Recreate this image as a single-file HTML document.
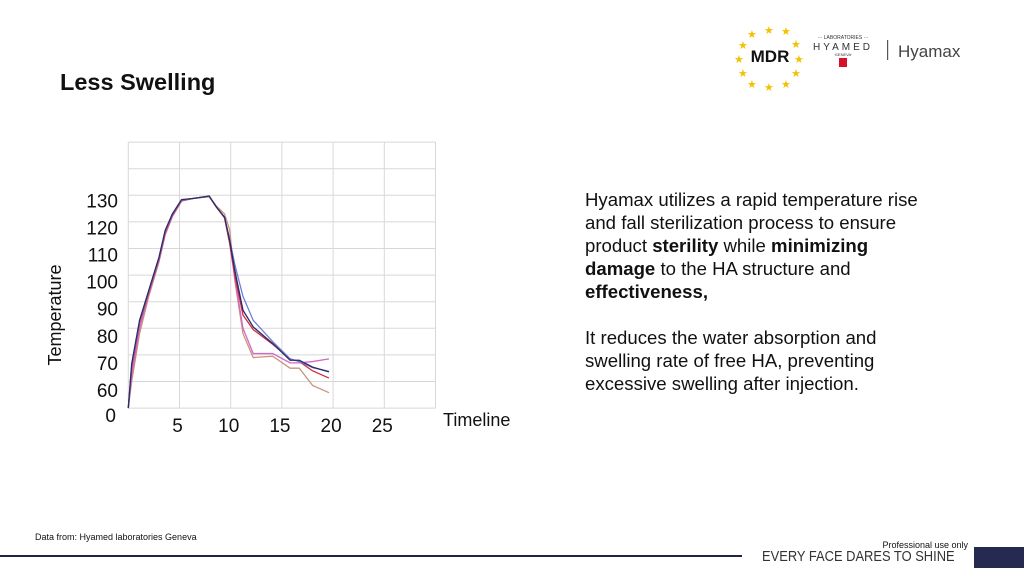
<!DOCTYPE html>
<html><head><meta charset="utf-8"><style>
body{margin:0;width:1024px;height:576px;background:#fff;position:relative;overflow:hidden;font-family:"Liberation Sans",sans-serif}
.a{position:absolute;white-space:nowrap}
</style></head><body>
<div class="a" style="left:60px;top:69px;font-size:23.5px;font-weight:bold;color:#111">Less Swelling</div>
<svg class="a" style="left:720px;top:15px" width="280" height="80">
<g fill="#f2c200" font-size="11">
<text x="44" y="19">★</text><text x="61" y="20">★</text><text x="27" y="23">★</text><text x="71" y="33">★</text><text x="18" y="34">★</text><text x="74" y="48">★</text><text x="14" y="48">★</text><text x="71" y="62">★</text><text x="18" y="62">★</text><text x="61" y="73">★</text><text x="27" y="73">★</text><text x="44" y="76">★</text></g>
<text x="50" y="47" text-anchor="middle" font-size="17" font-weight="bold" fill="#111">MDR</text>
<text x="123" y="24" text-anchor="middle" font-size="5" fill="#333">··· LABORATORIES ···</text>
<text x="123" y="35" text-anchor="middle" font-size="10" letter-spacing="3" fill="#333">HYAMED</text>
<text x="123" y="41" text-anchor="middle" font-size="4" fill="#333">·GENEVA·</text>
<rect x="119" y="43" width="8" height="9" fill="#d8102a"/>
<rect x="167" y="25" width="1.2" height="20" fill="#555"/>
<text x="178" y="42" font-size="17" fill="#444">Hyamax</text>
</svg>
<svg class="a" id="chart" style="left:0;top:0" width="520" height="450"></svg>
<div class="a" style="left:585px;top:188px;font-size:18.6px;line-height:23px;color:#111;white-space:normal;width:350px">Hyamax utilizes a rapid temperature rise and fall sterilization process to ensure product <b>sterility</b> while <b>minimizing damage</b> to the HA structure and <b>effectiveness,</b><br><br>It reduces the water absorption and swelling rate of free HA, preventing excessive swelling after injection.</div>
<div class="a" style="left:35px;top:532px;font-size:9px;color:#111">Data from: Hyamed laboratories Geneva</div>
<div class="a" style="left:0;top:555px;width:742px;height:2px;background:#1f2548"></div>
<div class="a" style="left:974px;top:547px;width:50px;height:21px;background:#262a50"></div>
<div class="a" style="right:56px;top:540px;font-size:9px;color:#111">Professional use only</div>
<div class="a" style="left:762px;top:548px;font-size:15px;color:#333;transform:scaleX(0.86);transform-origin:left top">EVERY FACE DARES TO SHINE</div>
<script>
const xTicks=[5,10,15,20,25];
const yTickValues=[130,120,110,100,90,80,70,60];
const yTickLabels=["130","120","110","100","90","80","70","60"];
const xs=[0,0.33,1.1,2.0,3.0,3.6,4.3,5.2,6.3,7.9,8.6,9.4,9.9,10.4,11.2,12.2,14.1,15.8,16.7,18.0,19.6];
const seriesNavy=[50,66.7,83,94.3,106.8,116.8,123,128.4,128.8,129.7,125.6,121.8,113,101.8,86.8,80.5,74.3,68,68,65.4,63.6];
const seriesBlue=[50,66,82.5,94,106.5,116.5,122.8,128.2,128.8,129.7,125.6,121.8,113.5,104,92,83,75,68.5,67.5,65.2,63.8];
const seriesRed=[50,65,82,93.5,106,116,122.5,128,128.8,129.6,125.6,121.5,112,100,85,79.5,74,68.5,67.5,64,61.3];
const seriesPink=[50,62,80,93,105.5,115.5,122,128,128.8,129.6,125.6,121.5,112,99,80,70.5,70.5,67,67,67.5,68.5];
const seriesTan=[50,60,78,92,105,115,122,127.8,128.8,129.5,126,123,117,98,78,69,69.5,65,65,58.5,55.8];
const svg=document.getElementById('chart');const NS='http://www.w3.org/2000/svg';
const X=v=>128.3+v*10.24, Y=v=>195.3+(130-v)*2.66;
function mk(t,a,p){const e=document.createElementNS(NS,t);for(const k in a)e.setAttribute(k,a[k]);(p||svg).appendChild(e);return e;}
const g=mk('g',{});
for(let v=0;v<=30;v+=5){const l=mk('line',{x1:X(v),x2:X(v),y1:Y(150),y2:Y(50),stroke:'#d8d8d8','stroke-width':1},g);}
for(let v=150;v>=50;v-=10){const l=mk('line',{x1:X(0),x2:X(30),y1:Y(v),y2:Y(v),stroke:'#d8d8d8','stroke-width':1},g);}
yTickValues.forEach((v,i)=>{const t=mk('text',{x:118,y:Y(v)+12+(130-v)*0.05,'text-anchor':'end','font-size':19,fill:'#111'});t.textContent=yTickLabels[i];});
const z=mk('text',{x:116,y:Y(50)+14,'text-anchor':'end','font-size':19,fill:'#111'});z.textContent='0';
xTicks.forEach(v=>{const t=mk('text',{x:X(v)-2,y:432,'text-anchor':'middle','font-size':19,fill:'#111'});t.textContent=v;});
const yt=mk('text',{x:0,y:0,transform:'translate(61,315) rotate(-90)','text-anchor':'middle','font-size':18,fill:'#111'});yt.textContent='Temperature';
const xt=mk('text',{x:443,y:426,'font-size':18,fill:'#111'});xt.textContent='Timeline';
[[seriesTan,'#c8957a','series-tan'],[seriesPink,'#d466c8','series-pink'],[seriesRed,'#d42a3c','series-red'],[seriesBlue,'#6d7fd6','series-blue'],[seriesNavy,'#2a2a66','series-navy']].forEach(([s,c,n])=>{
const p=mk('polyline',{points:s.map((v,i)=>X(xs[i])+','+Y(v)).join(' '),fill:'none',stroke:c,'stroke-width':1.3});});
</script>
</body></html>
